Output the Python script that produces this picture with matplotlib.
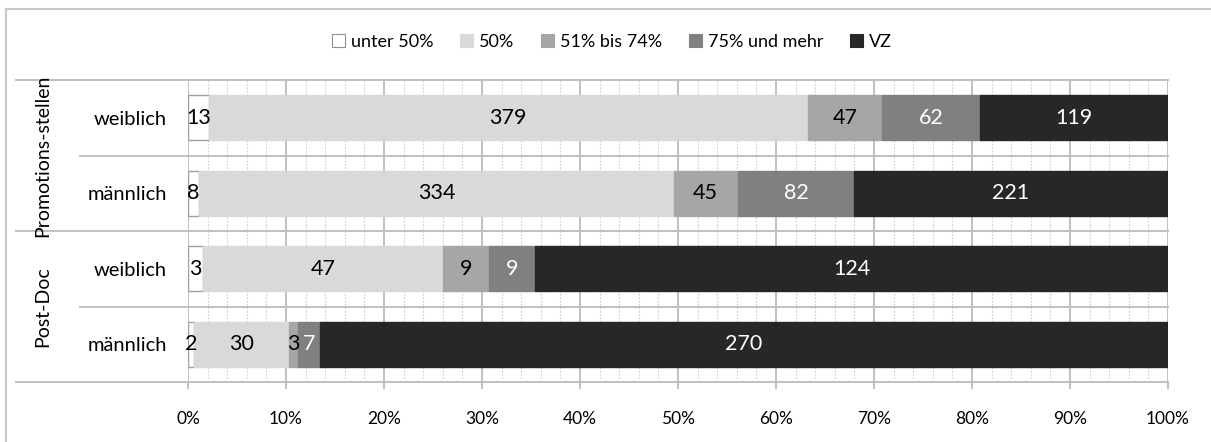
import numpy as np
import matplotlib
matplotlib.use("Agg")
import matplotlib.pyplot as plt
from matplotlib.patches import Patch
from matplotlib.lines import Line2D
from matplotlib.transforms import blended_transform_factory

plt.rcParams['font.family'] = ['Lato', 'DejaVu Sans']

# Data
row_labels = ["weiblich", "männlich", "weiblich", "männlich"]
group_labels = ["Promotions-stellen", "Post-Doc"]
series_names = ["unter 50%", "50%", "51% bis 74%", "75% und mehr", "VZ"]
unter50 = [13, 8, 3, 2]
p50 = [379, 334, 47, 30]
p51_74 = [47, 45, 9, 3]
p75 = [62, 82, 9, 7]
vz = [119, 221, 124, 270]
x_ticks = [0, 10, 20, 30, 40, 50, 60, 70, 80, 90, 100]

series = [unter50, p50, p51_74, p75, vz]
face_colors = ["#ffffff", "#d9d9d9", "#a6a6a6", "#808080", "#272727"]
edge_colors = ["#a0a0a0", "#d9d9d9", "#a6a6a6", "#808080", "#272727"]
text_colors = ["black", "black", "black", "white", "white"]

W, H = 1211, 442
fig = plt.figure(figsize=(W / 100, H / 100), dpi=100)
ax = fig.add_axes([188 / W, 1 - 382 / H, 980 / W, 302 / H])

counts = np.array(series, dtype=float)          # shape (5, 4)
shares = counts / counts.sum(axis=0) * 100.0
ypos = np.array([3.5, 2.5, 1.5, 0.5])
fs_val = 15.5
fs_cat = 14.5
fs_tick = 12.5
fs_leg = 13

# Gridlines
grid_c = "#c0c0c0"
for m in np.arange(0, 101, 2):
    if m % 10:
        ax.axvline(m, color="#cfcfcf", lw=0.8, ls=(0, (1.5, 1.5)), zorder=0)
for t in x_ticks:
    ax.axvline(t, color=grid_c, lw=1.4, zorder=0.5)

# Row separators, extended into the label area
tr = blended_transform_factory(ax.transAxes, ax.transData)
for yb in [4, 2, 0]:
    ax.plot([-172 / 980, 1], [yb, yb], transform=tr, color=grid_c, lw=1.4,
            clip_on=False, zorder=0.5)
for yb in [3, 1]:
    ax.plot([-108 / 980, 1], [yb, yb], transform=tr, color=grid_c, lw=1.4,
            clip_on=False, zorder=0.5)

# Stacked bars
left = np.zeros(4)
for i in range(5):
    ax.barh(ypos, shares[i], left=left, height=0.6, color=face_colors[i],
            edgecolor=edge_colors[i], linewidth=1.0, zorder=2)
    for j in range(4):
        ax.text(left[j] + shares[i][j] / 2, ypos[j], f"{int(counts[i][j])}",
                ha="center", va="center", color=text_colors[i], fontsize=fs_val,
                zorder=3)
    left += shares[i]

ax.set_xlim(0, 100)
ax.set_ylim(0, 4)
for s in ax.spines.values():
    s.set_visible(False)

ax.set_xticks(x_ticks)
ax.set_xticklabels([f"{t}%" for t in x_ticks], fontsize=fs_tick)
ax.tick_params(axis="x", length=5, width=1.4, color=grid_c, pad=16)
ax.set_yticks(ypos)
ax.set_yticklabels(row_labels, fontsize=fs_cat)
ax.tick_params(axis="y", length=0, pad=15)

# Group labels
trg = blended_transform_factory(fig.transFigure, ax.transData)
ax.text(43 / W, 3.0, group_labels[0], rotation=90, ha="center", va="center",
        fontsize=14, transform=trg)
ax.text(43 / W, 1.0, group_labels[1], rotation=90, ha="center", va="center",
        fontsize=14, transform=trg)

# Legend
handles = [Patch(facecolor=face_colors[i],
                 edgecolor="#909090" if i == 0 else face_colors[i], lw=0.8)
           for i in range(5)]
fig.legend(handles, series_names, loc="center", bbox_to_anchor=(612 / W, 1 - 42 / H),
           ncol=5, frameon=False, fontsize=fs_leg, handlelength=0.72,
           handleheight=0.72, handletextpad=0.35, columnspacing=1.45)

# Chart border
border_c = "#c8c8c8"
fig.add_artist(Line2D([6 / W, 6 / W], [0, 1 - 9 / H], transform=fig.transFigure,
                      color=border_c, lw=1.5))
fig.add_artist(Line2D([6 / W, 1], [1 - 9 / H, 1 - 9 / H], transform=fig.transFigure,
                      color=border_c, lw=1.5))

fig.savefig("out.png", dpi=100)
